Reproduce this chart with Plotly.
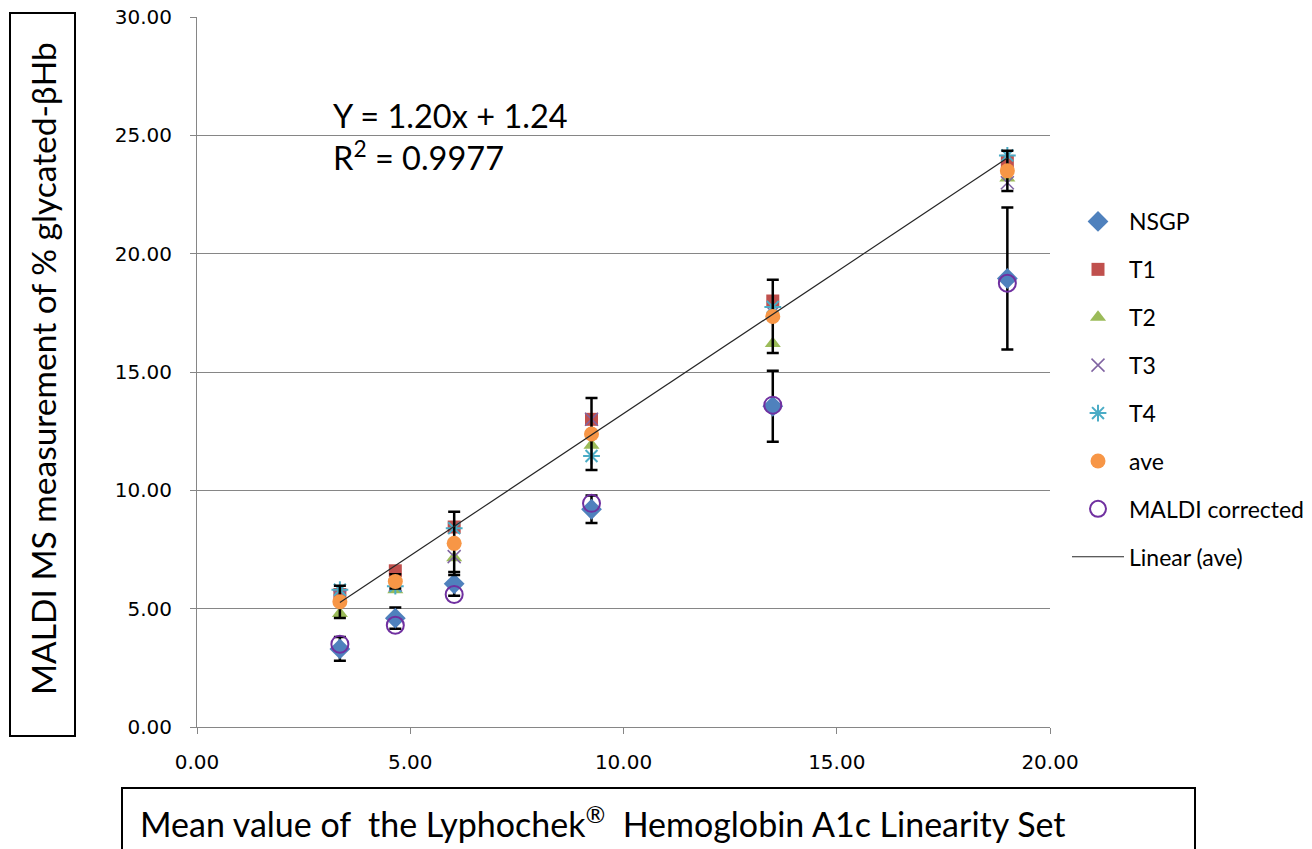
import plotly.graph_objects as go

# ---- data ----
x_vals = [3.35, 4.65, 6.03, 9.25, 13.5, 19.0]
nsgp = [3.3, 4.6, 6.05, 9.2, 13.55, 18.95]
nsgp_err = [0.5, 0.45, 0.5, 0.58, 1.5, 3.0]
t1 = [5.6, 6.6, 8.45, 13.0, 18.0, 23.9]
t2 = [4.8, 5.8, 7.15, 11.9, 16.2, 23.2]
t3 = [5.5, 6.0, 7.2, 13.0, 17.5, 23.0]
t4 = [5.8, 5.95, 8.4, 11.45, 17.75, 24.15]
ave = [5.29, 6.15, 7.76, 12.38, 17.35, 23.5]
ave_err = [0.68, 0.3, 1.34, 1.52, 1.55, 0.85]
maldi_corrected = [3.5, 4.3, 5.6, 9.45, 13.6, 18.75]
slope, intercept = 1.20, 1.24
r_squared = "0.9977"
y_ticks = [0, 5, 10, 15, 20, 25, 30]
x_ticks = [0, 5, 10, 15, 20]

FONT = "Lato"
TICKFONT = "DejaVu Sans"
AXIS_GRAY = "#868686"

# plot-area pixel geometry
L, R, T, B = 197, 1050, 17, 727
W, H = R - L, B - T


def px(xp):
    return (xp - L) / W


def py(yp):
    return (B - yp) / H


fig = go.Figure()

err_style = dict(type="data", visible=True, color="black", thickness=2.5, width=6)

fig.add_trace(go.Scatter(
    x=x_vals, y=nsgp, mode="markers", name="NSGP", legendgroup="a",
    marker=dict(symbol="diamond", size=16, color="#4F81BD"),
    error_y=dict(array=nsgp_err, **err_style)))
fig.add_trace(go.Scatter(
    x=x_vals, y=t1, mode="markers", name="T1", legendgroup="b",
    marker=dict(symbol="square", size=13, color="#C0504D")))
fig.add_trace(go.Scatter(
    x=x_vals, y=t2, mode="markers", name="T2", legendgroup="c",
    marker=dict(symbol="triangle-up", size=14, color="#9BBB59")))
fig.add_trace(go.Scatter(
    x=x_vals, y=t3, mode="markers", name="T3", legendgroup="d",
    marker=dict(symbol="x-thin", size=13, color="#8064A2",
                line=dict(color="#8064A2", width=1.5))))
fig.add_trace(go.Scatter(
    x=x_vals, y=t4, mode="markers", name="T4", legendgroup="e",
    marker=dict(symbol="asterisk", size=14, color="#4BACC6",
                line=dict(color="#4BACC6", width=2))))
fig.add_trace(go.Scatter(
    x=x_vals, y=ave, mode="markers", name="ave", legendgroup="f",
    marker=dict(symbol="circle", size=15, color="#F79646"),
    error_y=dict(array=ave_err, **err_style)))
fig.add_trace(go.Scatter(
    x=x_vals, y=maldi_corrected, mode="markers", name="MALDI corrected", legendgroup="g",
    marker=dict(symbol="circle-open", size=17, color="#7030A0",
                line=dict(color="#7030A0", width=2))))

trend_x = [min(x_vals), max(x_vals)]
trend_y = [slope * v + intercept for v in trend_x]
fig.add_trace(go.Scatter(
    x=trend_x, y=trend_y, mode="lines", name="Linear (ave)", legendgroup="h",
    line=dict(color="#262626", width=1.2)))

# white box behind the equation (breaks the gridline)
fig.add_shape(type="rect", xref="paper", yref="paper",
              x0=px(315), x1=px(678), y0=py(185), y1=py(92),
              fillcolor="white", line=dict(width=0), layer="between")

fig.add_annotation(
    xref="paper", yref="paper", x=px(331), y=py(136),
    xanchor="left", yanchor="middle", align="left", showarrow=False,
    text=f"Y = {slope:.2f}x + {intercept:.2f}<br>R<sup>2</sup> = {r_squared}",
    font=dict(family=FONT, size=32.5, color="black"))

# boxed axis titles
fig.add_shape(type="rect", xref="paper", yref="paper",
              x0=px(10), x1=px(75), y0=py(736), y1=py(13),
              line=dict(color="black", width=2), fillcolor="rgba(0,0,0,0)")
fig.add_annotation(
    xref="paper", yref="paper", x=px(43), y=py(369),
    xanchor="center", yanchor="middle", textangle=-90, showarrow=False,
    text="MALDI MS measurement of % glycated-βHb",
    font=dict(family=FONT, size=33.5, color="black"))

fig.add_shape(type="rect", xref="paper", yref="paper",
              x0=px(122), x1=px(1195), y0=py(870), y1=py(788),
              line=dict(color="black", width=2), fillcolor="rgba(0,0,0,0)")
fig.add_annotation(
    xref="paper", yref="paper", x=px(138), y=py(822),
    xanchor="left", yanchor="middle", showarrow=False,
    text="Mean value of  the Lyphochek<sup>®</sup>  Hemoglobin A1c Linearity Set",
    font=dict(family=FONT, size=34, color="black"))

fig.update_layout(
    width=1312, height=849,
    margin=dict(l=L, r=1312 - R, t=T, b=849 - B, pad=0, autoexpand=False),
    paper_bgcolor="white", plot_bgcolor="white",
    showlegend=True,
    legend=dict(x=px(1067), y=py(200), xanchor="left", yanchor="top",
                font=dict(family=FONT, size=23, color="black"),
                tracegroupgap=15, bgcolor="rgba(0,0,0,0)", itemwidth=52),
    xaxis=dict(range=[0, 20], tickvals=x_ticks, tickformat=".2f",
               showgrid=False, zeroline=False, showline=True, linecolor=AXIS_GRAY,
               linewidth=1, ticks="outside", tickcolor=AXIS_GRAY, ticklen=6,
               ticklabelstandoff=11,
               tickfont=dict(family=TICKFONT, size=20, color="black")),
    yaxis=dict(range=[0, 30], tickvals=y_ticks, tickformat=".2f",
               showgrid=True, gridcolor=AXIS_GRAY, gridwidth=1, zeroline=False,
               showline=True, linecolor=AXIS_GRAY, linewidth=1,
               ticks="outside", tickcolor=AXIS_GRAY, ticklen=6,
               ticklabelstandoff=14,
               tickfont=dict(family=TICKFONT, size=20, color="black")),
)

fig.write_html("out.html")
